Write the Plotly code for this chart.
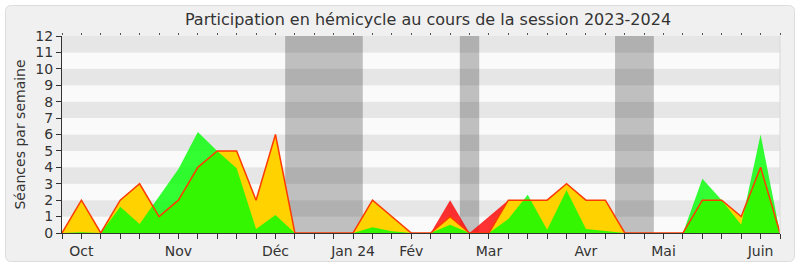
import plotly.graph_objects as go

# Week index 0..37 (session 2023-2024, weekly points)
weeks = list(range(38))
month_labels = {1: "Oct", 6: "Nov", 11: "Déc", 15: "Jan 24", 18: "Fév",
                22: "Mar", 27: "Avr", 31: "Mai", 36: "Juin"}
tick_text = [month_labels.get(w, "") for w in weeks]

# Séances (red, total), présence (yellow), interventions (green)
seances = [0, 2, 0, 2, 3, 1, 2, 4, 5, 5, 2, 6, 0, 0, 0, 0, 2, 1, 0, 0,
           2, 0, 1, 2, 2, 2, 3, 2, 2, 0, 0, 0, 0, 2, 2, 1, 4, 0]
presence = [0, 2, 0, 2, 3, 1, 2, 4, 5, 5, 2, 6, 0, 0, 0, 0, 2, 1, 0, 0,
            1, 0, 0, 2, 2, 2, 3, 2, 2, 0, 0, 0, 0, 2, 2, 1, 4, 0]
interventions = [0, 0.05, 0, 1.6, 0.55, 2.2, 3.9, 6.15, 5.0, 3.95, 0.25, 1.1, 0, 0, 0, 0,
                 0.35, 0.1, 0, 0, 0.5, 0, 0, 0.85, 2.33, 0.2, 2.6, 0.25, 0.12, 0, 0, 0,
                 0, 3.3, 2.0, 0.5, 6.0, 0]

# Vacation periods (in week units)
vacances = [(11.5, 15.5), (20.5, 21.5), (28.5, 30.5)]

W, H = 800, 267
ML, MR, MT, MB = 62, 20, 36, 34
PW, PH = W - ML - MR, H - MT - MB

fig = go.Figure()

fig.add_trace(go.Scatter(x=weeks, y=seances, mode="lines", fill="tozeroy",
                         line=dict(width=0, color="rgba(255,0,0,0)"),
                         fillcolor="rgba(255,0,0,0.8)", hoverinfo="skip", showlegend=False))
fig.add_trace(go.Scatter(x=weeks, y=presence, mode="lines", fill="tozeroy",
                         line=dict(width=0, color="rgba(255,210,0,0)"),
                         fillcolor="#ffd200", hoverinfo="skip", showlegend=False))
fig.add_trace(go.Scatter(x=weeks, y=interventions, mode="lines", fill="tozeroy",
                         line=dict(width=0, color="rgba(0,255,0,0)"),
                         fillcolor="rgba(0,255,0,0.8)", hoverinfo="skip", showlegend=False))
fig.add_trace(go.Scatter(x=weeks, y=presence, mode="lines",
                         line=dict(width=1.5, color="#ff3c00"),
                         hoverinfo="skip", showlegend=False))
# invisible trace for the top tick axis
fig.add_trace(go.Scatter(x=weeks, y=presence, xaxis="x2", mode="lines", opacity=0,
                         line=dict(width=0), hoverinfo="skip", showlegend=False))

shapes = []


def P(px, py):
    a, b = (px - ML) / PW, (H - MB - py) / PH
    return f"{a:.5f},{b:.5f}"


# outer rounded box
x0, y0, x1, y1, r = 5.5, 5.5, 794.5, 261.5, 6
path = (f"M {P(x0 + r, y0)} L {P(x1 - r, y0)} Q {P(x1, y0)} {P(x1, y0 + r)} "
        f"L {P(x1, y1 - r)} Q {P(x1, y1)} {P(x1 - r, y1)} "
        f"L {P(x0 + r, y1)} Q {P(x0, y1)} {P(x0, y1 - r)} "
        f"L {P(x0, y0 + r)} Q {P(x0, y0)} {P(x0 + r, y0)} Z")
shapes.append(dict(type="path", path=path, xref="paper", yref="paper",
                   fillcolor="#f0f0f0", line=dict(color="#dcdcdc", width=1), layer="below"))

# stripes
for k in range(12):
    shapes.append(dict(type="rect", xref="paper", yref="y", x0=0, x1=1, y0=k, y1=k + 1,
                       fillcolor="#e6e6e6" if k % 2 == 1 else "#fafafa",
                       line=dict(width=0), layer="below"))
# vacation blocks
for a, b in vacances:
    shapes.append(dict(type="rect", xref="x", yref="paper", x0=a, x1=b, y0=0, y1=1,
                       fillcolor="rgba(0,0,0,0.235)", line=dict(width=0), layer="below"))
# right border
shapes.append(dict(type="line", xref="paper", yref="paper", x0=1, x1=1, y0=0, y1=1,
                   line=dict(color="#d8d8d8", width=1)))

font = "DejaVu Sans"
fig.update_layout(
    width=W, height=H,
    margin=dict(l=ML, r=MR, t=MT, b=MB, autoexpand=False),
    paper_bgcolor="white", plot_bgcolor="rgba(0,0,0,0)",
    shapes=shapes,
    title=dict(text="Participation en hémicycle au cours de la session 2023-2024",
               x=428 / W, xanchor="center", y=1 - 19 / H, yanchor="middle",
               font=dict(family=font, size=16, color="#333333")),
    xaxis=dict(range=[0, 37], tickmode="array", tickvals=weeks, ticktext=tick_text,
               ticks="outside", ticklen=5, tickcolor="#333333", showgrid=False,
               zeroline=False, showline=True, linecolor="#333333", linewidth=1,
               automargin=False,
               tickfont=dict(family=font, size=14, color="#333333")),
    xaxis2=dict(range=[0, 37], overlaying="x", side="top", tickmode="array",
                tickvals=weeks, ticks="outside", ticklen=2, tickcolor="#555555",
                showticklabels=False, showgrid=False, zeroline=False, showline=False,
                automargin=False),
    yaxis=dict(range=[0, 12], tickmode="array", tickvals=list(range(13)),
               ticks="outside", ticklen=5, tickcolor="#333333", showgrid=False,
               zeroline=False, showline=True, linecolor="#333333", linewidth=1,
               automargin=False,
               tickfont=dict(family=font, size=14, color="#333333"),
               title=dict(text="Séances par semaine", standoff=6,
                          font=dict(family=font, size=14, color="#333333"))),
)

fig.write_html("out.html")
